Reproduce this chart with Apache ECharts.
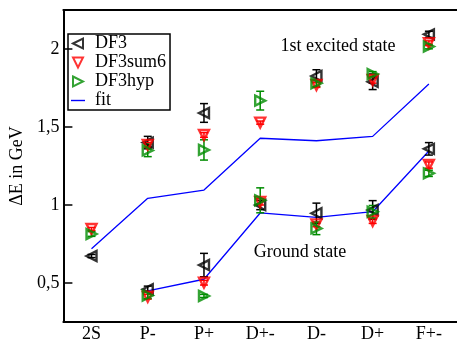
<!DOCTYPE html>
<html>
<head>
<meta charset="utf-8">
<script src="https://cdn.jsdelivr.net/npm/echarts@6.0.0/dist/echarts.min.js"></script>
<style>
html, body { margin: 0; padding: 0; background: #fff; }
#chart { width: 457px; height: 353px; }
</style>
</head>
<body>
<div id="chart"></div>
<script>
var states = ['2S', 'P-', 'P+', 'D+-', 'D-', 'D+', 'F+-'];

// upper branch (1st excited state, plus 2S)
var df3Up     = [0.673, 1.400, 1.590, null, 1.827, 1.790, 2.094];
var df3UpErr  = [0.010, 0.040, 0.060, null, 0.040, 0.050, 0.020];
var sumUp     = [0.846, 1.385, 1.449, 1.528, 1.769, 1.801, 2.037];
var sumUpErr  = [0.010, 0.015, 0.015, 0.010, 0.015, 0.020, 0.015];
var hypUp     = [0.814, 1.350, 1.353, 1.669, 1.780, 1.840, 2.016];
var hypUpErr  = [0.015, 0.040, 0.065, 0.060, 0.020, 0.015, 0.015];

// lower branch (ground state)
var df3Low    = [null, 0.460, 0.615, 1.000, 0.947, 0.968, 1.360];
var df3LowErr = [null, 0.020, 0.075, 0.030, 0.065, 0.060, 0.040];
var sumLow    = [null, 0.412, 0.502, 1.020, 0.876, 0.897, 1.256];
var sumLowErr = [null, 0.015, 0.015, 0.020, 0.015, 0.015, 0.020];
var hypLow    = [null, 0.420, 0.417, 1.030, 0.850, 0.957, 1.203];
var hypLowErr = [null, 0.020, 0.010, 0.080, 0.040, 0.040, 0.020];

// fit curves
var fitUp  = [0.720, 1.043, 1.096, 1.428, 1.412, 1.440, 1.776];
var fitLow = [null, 0.449, 0.524, 0.949, 0.921, 0.957, 1.346];

var yMajor = [0.5, 1, 1.5, 2];

var FONT = '"Liberation Serif", "DejaVu Serif", serif';

var TRI_LEFT  = 'path://M0,5L10,0L10,10Z';
var TRI_DOWN  = 'path://M0,0L10,0L5,10Z';
var TRI_RIGHT = 'path://M0,0L10,5L0,10Z';

function pts(a, b) {
    var out = [];
    [a, b].forEach(function (arr) {
        arr.forEach(function (v, i) { if (v != null) out.push([i, v]); });
    });
    return out;
}
function errPts(a, ea, b, eb) {
    var out = [];
    [[a, ea], [b, eb]].forEach(function (p) {
        p[0].forEach(function (v, i) { if (v != null) out.push([i, v, p[1][i]]); });
    });
    return out;
}

function errItem(params, api) {
    var i = api.value(0), v = api.value(1), e = api.value(2);
    var hi = api.coord([i, v + e]);
    var lo = api.coord([i, v - e]);
    var w = 4;
    var st = { stroke: api.visual('color'), lineWidth: 1.5 };
    return {
        type: 'group',
        children: [
            { type: 'line', shape: { x1: hi[0], y1: hi[1], x2: lo[0], y2: lo[1] }, style: st },
            { type: 'line', shape: { x1: hi[0] - w, y1: hi[1], x2: hi[0] + w, y2: hi[1] }, style: st },
            { type: 'line', shape: { x1: lo[0] - w, y1: lo[1], x2: lo[0] + w, y2: lo[1] }, style: st }
        ]
    };
}

function scatter(name, data, color, sym) {
    return {
        name: name,
        type: 'scatter',
        data: data,
        symbol: sym,
        symbolSize: 10,
        itemStyle: { color: 'rgba(0,0,0,0)', borderColor: color, borderWidth: 2.4 },
        z: 4
    };
}
function errSeries(name, data, color) {
    return {
        name: name,
        type: 'custom',
        renderItem: errItem,
        data: data,
        itemStyle: { color: color },
        encode: { x: 0, y: 1 },
        z: 3
    };
}

var chart = echarts.init(document.getElementById('chart'));
var option = {
    animation: false,
    backgroundColor: '#fff',
    grid: { left: 45, top: 10, bottom: 31, right: -12, show: false },
    legend: {
        orient: 'vertical',
        left: 68,
        top: 34,
        padding: [0, 4, 0, 3],
        itemGap: 0,
        itemWidth: 14,
        itemHeight: 10,
        borderColor: '#000',
        borderWidth: 1.5,
        data: [
            { name: 'DF3', icon: TRI_LEFT },
            { name: 'DF3sum6', icon: TRI_DOWN },
            { name: 'DF3hyp', icon: TRI_RIGHT },
            { name: 'fit', icon: 'path://M0,0L14,0L14,1.4L0,1.4Z', itemStyle: { color: '#0000ff', borderWidth: 0 } }
        ],
        textStyle: { fontFamily: FONT, fontSize: 18, color: '#000', lineHeight: 19, padding: [0, 0, 0, 5] }
    },
    xAxis: [{
        type: 'category',
        data: states,
        position: 'bottom',
        axisLine: { lineStyle: { color: '#000', width: 2 } },
        axisTick: { inside: true, length: 8, alignWithLabel: true, lineStyle: { color: '#000', width: 1.5 } },
        axisLabel: { fontFamily: FONT, fontSize: 18, color: '#000', margin: 3 },
        splitLine: { show: false }
    }, {
        type: 'category',
        data: states,
        position: 'top',
        axisLine: { lineStyle: { color: '#000', width: 2 } },
        axisTick: { inside: true, length: 8, alignWithLabel: true, lineStyle: { color: '#000', width: 1.5 } },
        axisLabel: { show: false },
        splitLine: { show: false }
    }],
    yAxis: [{
        type: 'value',
        min: 0.25,
        max: 2.25,
        interval: 0.125,
        position: 'left',
        name: 'ΔE in GeV',
        nameLocation: 'middle',
        nameGap: 33,
        nameTextStyle: { fontFamily: FONT, fontSize: 18, color: '#000' },
        axisLine: { show: true, lineStyle: { color: '#000', width: 2 } },
        axisTick: { inside: true, length: 5, lineStyle: { color: '#000', width: 1.5 } },
        axisLabel: {
            fontFamily: FONT, fontSize: 18, color: '#000', margin: 4,
            formatter: function (v) {
                return yMajor.indexOf(v) >= 0 ? String(v).replace('.', ',') : '';
            }
        },
        splitLine: { show: false }
    }, {
        type: 'value',
        min: 0.25,
        max: 2.25,
        position: 'left',
        offset: 0,
        axisLine: { show: false },
        axisTick: { show: true, inside: true, length: 9, customValues: yMajor, lineStyle: { color: '#000', width: 1.5 } },
        axisLabel: { show: false },
        splitLine: { show: false }
    }],
    graphic: [
        { type: 'text', x: 338, y: 46, style: { text: '1st excited state', font: '18px ' + FONT, fill: '#000', align: 'center', verticalAlign: 'middle' } },
        { type: 'text', x: 300, y: 252, style: { text: 'Ground state', font: '18px ' + FONT, fill: '#000', align: 'center', verticalAlign: 'middle' } }
    ],
    series: [
        {
            name: 'fit', type: 'line', data: fitUp, symbol: 'none',
            lineStyle: { color: '#0000ff', width: 1.3 }, itemStyle: { color: '#0000ff' }, z: 2
        },
        {
            name: 'fit', type: 'line', data: fitLow, symbol: 'none', connectNulls: false,
            lineStyle: { color: '#0000ff', width: 1.3 }, itemStyle: { color: '#0000ff' }, z: 2
        },
        scatter('DF3', pts(df3Up, df3Low), '#000000', TRI_LEFT),
        scatter('DF3sum6', pts(sumUp, sumLow), '#ff0000', TRI_DOWN),
        scatter('DF3hyp', pts(hypUp, hypLow), '#008c00', TRI_RIGHT),
        errSeries('DF3 err', errPts(df3Up, df3UpErr, df3Low, df3LowErr), '#000000'),
        errSeries('DF3sum6 err', errPts(sumUp, sumUpErr, sumLow, sumLowErr), '#ff0000'),
        errSeries('DF3hyp err', errPts(hypUp, hypUpErr, hypLow, hypLowErr), '#008c00')
    ]
};
chart.setOption(option);
</script>
</body>
</html>
